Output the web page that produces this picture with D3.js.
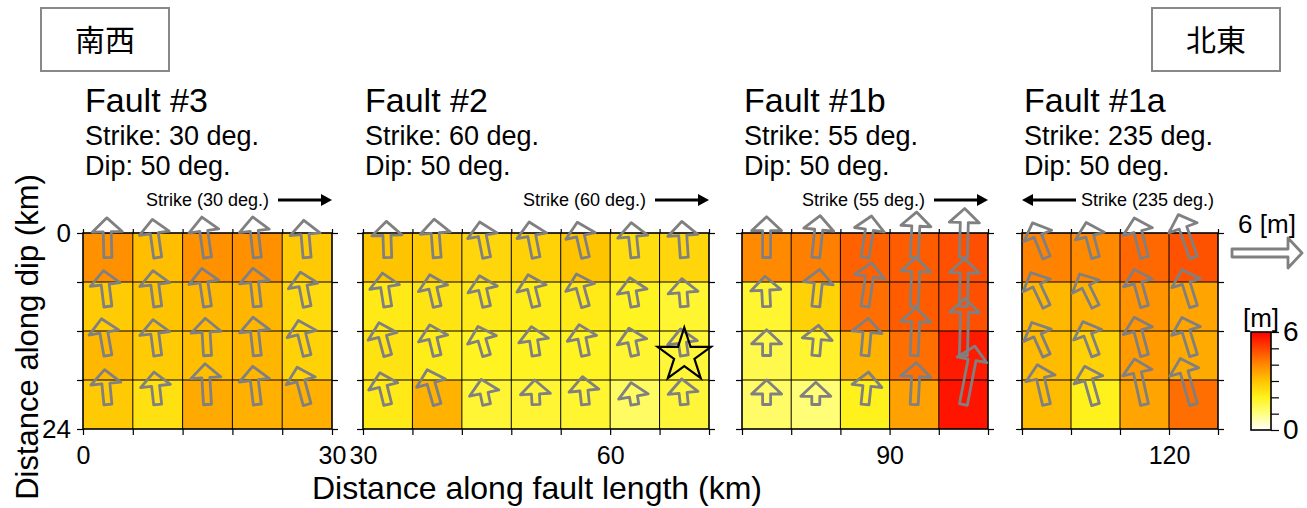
<!DOCTYPE html>
<html>
<head>
<meta charset="utf-8">
<script src="https://cdn.jsdelivr.net/npm/d3@7"></script>
<style>
  body { margin: 0; background: #fff; }
  svg { display: block; font-family: "Liberation Sans", Arial, sans-serif; }
</style>
</head>
<body>
<svg id="chart" width="1307" height="508"></svg>
<script>
// ---- data ----
const faultNames = ["Fault #3", "Fault #2", "Fault #1b", "Fault #1a"];
const faultStrikes = [30, 60, 55, 235];
const faultDips = [50, 50, 50, 50];
const faultKm = [[0, 30], [30, 72], [72, 102], [102, 126]];
const xTickLabels = [[0, 30], [30, 60], [90], [120]];
const strikeArrowDir = [1, 1, 1, -1];
const dipRange = [0, 24];
const dipTickLabels = [0, 24];
const patchKm = 6;

// slip on grid (m) used for shading, rows top (0 km) -> bottom (24 km)
const slipF3 = [
  [3.9, 3.1, 3.9, 3.9, 2.9],
  [2.85, 3.0, 3.2, 3.25, 2.5],
  [3.2, 2.85, 3.1, 3.25, 2.7],
  [2.9, 2.4, 3.45, 3.35, 3.35]
];
const slipF2 = [
  [3.0, 2.9, 2.6, 2.7, 3.0, 2.45, 2.6],
  [2.2, 2.3, 2.2, 2.1, 2.2, 1.95, 1.8],
  [2.35, 2.1, 1.95, 1.95, 1.95, 1.8, 1.7],
  [2.2, 3.3, 1.75, 1.75, 1.8, 1.3, 1.7]
];
const slipF1b = [
  [4.0, 4.15, 4.6, 4.65, 4.85],
  [1.8, 2.7, 4.4, 4.65, 4.85],
  [1.5, 1.8, 3.3, 4.4, 5.6],
  [1.25, 1.1, 2.0, 3.6, 5.7]
];
const slipF1a = [
  [4.1, 4.0, 4.5, 4.8],
  [3.2, 3.3, 3.85, 3.55],
  [3.15, 2.7, 3.7, 3.45],
  [3.15, 2.0, 3.55, 4.4]
];

// slip vectors (m) per patch
const vecF3 = [
  [3.4, 3.3, 3.5, 3.5, 3.2],
  [3.1, 3.1, 3.3, 3.3, 3.0],
  [3.2, 3.1, 3.2, 3.3, 3.1],
  [3.0, 2.8, 3.5, 3.3, 3.3]
];
const vecF2 = [
  [3.1, 3.3, 3.1, 3.1, 3.1, 3.0, 3.1],
  [2.9, 2.8, 2.7, 2.8, 2.9, 2.5, 2.4],
  [2.9, 2.7, 2.6, 2.5, 2.7, 2.4, 2.3],
  [2.8, 3.1, 2.2, 2.1, 2.4, 1.9, 2.2]
];
const vecF1b = [
  [3.5, 3.6, 3.6, 3.9, 4.2],
  [2.6, 3.2, 3.8, 4.2, 4.1],
  [2.2, 2.6, 3.2, 4.1, 4.9],
  [2.1, 1.9, 2.8, 3.6, 5.1]
];
const vecF1a = [
  [3.2, 3.1, 3.5, 3.9],
  [3.2, 3.1, 3.3, 3.3],
  [3.1, 3.1, 3.4, 3.4],
  [3.5, 3.4, 4.0, 4.1]
];

// tilt of each slip vector from up-dip (deg, clockwise positive)
const tiltF3 = [
  [-1.5, -8, -8, -6.5, -5],
  [-7, -7.5, -8.5, -6.5, -11],
  [-10, -7.5, -3.5, -6.5, -14],
  [-5.5, -6.5, -3.5, -7, -15]
];
const tiltF2 = [
  [-2, -4.5, -11, -11, -13, -6, -4],
  [-9, -13, -13, -14, -15.5, -10, -5],
  [-15, -13.5, -16.5, -9, -11.5, -12, -8],
  [-14, -16, -12, -3, -6, -10, -6]
];
const tiltF1b = [
  [0, 6, 9, 3, 1.5],
  [-3, 6, 8.5, 2.5, 1.5],
  [0, 5, 5, 2.5, 1.5],
  [0, 0, 6, 3, 11]
];
const tiltF1a = [
  [-22, -15, -14.5, -19.5],
  [-25, -26, -15.5, -17.5],
  [-24, -20.5, -15, -17],
  [-13, -16, -12.5, -16]
];

const faultSlip = [slipF3, slipF2, slipF1b, slipF1a];
const faultVec = [vecF3, vecF2, vecF1b, vecF1a];
const faultTilt = [tiltF3, tiltF2, tiltF1b, tiltF1a];

// hypocentre (km along length, km along dip)
const hypo = [69, 15];

// colour palette
const cptValues = [0, 1, 2, 3, 4, 5, 6];
const cptColors = ["#ffffff", "#ffff80", "#fff21c", "#ffc400", "#ff8a00", "#ff4400", "#ff0000"];
const cbarTicks = [0, 1, 2, 3, 4, 5, 6];
const cbarLabels = [0, 6];
const refSlip = 6;

const regionLabels = ["南西", "北東"];

// ---- layout ----
const panelX = [[83, 332], [363, 709], [742, 988], [1022, 1218]];
const plotTop = 233, plotBottom = 429;
const font = '"Liberation Sans", Arial, sans-serif';

const svg = d3.select("#chart");
const color = d3.scaleLinear().domain(cptValues).range(cptColors).clamp(true);
const vecLen = d3.scaleLinear().domain([0, 6]).range([0, 70]);
const y = d3.scaleLinear().domain(dipRange).range([plotTop, plotBottom]);

function arrowPath(L) {
  const w = 4, hw = 15, hl = 14;
  const b = -(L - hl);
  return `M${-w},0L${-w},${b}L${-hw},${b}L0,${-L}L${hw},${b}L${w},${b}L${w},0Z`;
}

function styleAxis(g) {
  g.select(".domain").remove();
  g.selectAll("line").attr("stroke", "#000").attr("stroke-width", 1.2);
  g.selectAll("text").attr("font-size", 25).attr("font-family", font).attr("fill", "#000");
}

faultNames.forEach((name, i) => {
  const [k0, k1] = faultKm[i];
  const x = d3.scaleLinear().domain([k0, k1]).range(panelX[i]);
  const g = svg.append("g");
  const slip = faultSlip[i];
  const nCols = slip[0].length;
  const colEdges = d3.range(nCols + 1).map(c => k0 + c * patchKm);
  const rowEdges = d3.range(slip.length + 1).map(r => r * patchKm);

  // patches
  slip.forEach((row, r) => row.forEach((s, c) => {
    g.append("rect")
      .attr("x", x(colEdges[c])).attr("y", y(rowEdges[r]))
      .attr("width", x(colEdges[c + 1]) - x(colEdges[c]))
      .attr("height", y(rowEdges[r + 1]) - y(rowEdges[r]))
      .attr("fill", color(s));
  }));

  // patch outlines
  g.selectAll(".vl").data(colEdges.slice(1, -1)).enter().append("line")
    .attr("x1", d => x(d)).attr("x2", d => x(d))
    .attr("y1", plotTop).attr("y2", plotBottom)
    .attr("stroke", "#000").attr("stroke-width", 1);
  g.selectAll(".hl").data(rowEdges.slice(1, -1)).enter().append("line")
    .attr("x1", panelX[i][0]).attr("x2", panelX[i][1])
    .attr("y1", d => y(d)).attr("y2", d => y(d))
    .attr("stroke", "#000").attr("stroke-width", 1);
  g.append("rect")
    .attr("x", panelX[i][0]).attr("y", plotTop)
    .attr("width", panelX[i][1] - panelX[i][0]).attr("height", plotBottom - plotTop)
    .attr("fill", "none").attr("stroke", "#000").attr("stroke-width", 1.6);

  // axes
  const labX = xTickLabels[i];
  g.append("g").attr("transform", `translate(0,${plotBottom})`)
    .call(d3.axisBottom(x).tickValues(colEdges).tickSize(6).tickPadding(11)
      .tickFormat(d => labX.includes(d) ? d : ""))
    .call(styleAxis);
  g.append("g").attr("transform", `translate(0,${plotTop})`)
    .call(d3.axisTop(x).tickValues(colEdges).tickSize(4).tickFormat(""))
    .call(styleAxis);
  g.append("g").attr("transform", `translate(${panelX[i][0]},0)`)
    .call(d3.axisLeft(y).tickValues(rowEdges).tickSize(6).tickPadding(6)
      .tickFormat(d => (i === 0 && dipTickLabels.includes(d)) ? d : ""))
    .call(styleAxis)
    .call(a => a.selectAll("text").attr("font-size", 26));
  g.append("g").attr("transform", `translate(${panelX[i][1]},0)`)
    .call(d3.axisRight(y).tickValues(rowEdges).tickSize(6).tickFormat(""))
    .call(styleAxis);

  // slip vectors
  const vec = faultVec[i], tilt = faultTilt[i];
  vec.forEach((row, r) => row.forEach((v, c) => {
    const cx = x(k0 + (c + 0.5) * patchKm), cy = y((r + 0.5) * patchKm);
    g.append("path")
      .attr("d", arrowPath(vecLen(v)))
      .attr("transform", `translate(${cx},${cy}) rotate(${tilt[r][c]})`)
      .attr("fill", "none").attr("stroke", "#808080")
      .attr("stroke-width", 2.8).attr("stroke-linejoin", "round");
  }));

  // titles
  const tx = panelX[i][0] + 2;
  svg.append("text").attr("x", tx).attr("y", 112).attr("font-size", 34).text(name);
  svg.append("text").attr("x", tx).attr("y", 145).attr("font-size", 27)
    .text(`Strike: ${faultStrikes[i]} deg.`);
  svg.append("text").attr("x", tx).attr("y", 175).attr("font-size", 27)
    .text(`Dip: ${faultDips[i]} deg.`);

  // strike direction
  const ay = 200, aLen = 54;
  const dir = strikeArrowDir[i];
  const a0 = dir > 0 ? panelX[i][1] - aLen : panelX[i][0] + aLen;
  const a1 = dir > 0 ? panelX[i][1] : panelX[i][0];
  g.append("line").attr("x1", a0).attr("x2", a1 - dir * 8).attr("y1", ay).attr("y2", ay)
    .attr("stroke", "#000").attr("stroke-width", 3);
  g.append("path")
    .attr("d", `M${a1},${ay}L${a1 - dir * 11},${ay - 6}L${a1 - dir * 11},${ay + 6}Z`)
    .attr("fill", "#000");
  g.append("text")
    .attr("x", dir > 0 ? a0 - 9 : a0 + 5).attr("y", ay + 6)
    .attr("text-anchor", dir > 0 ? "end" : "start")
    .attr("font-size", 18)
    .text(`Strike (${faultStrikes[i]} deg.)`);

  // hypocentre
  if (hypo[0] > k0 && hypo[0] < k1) {
    g.append("path")
      .attr("d", d3.symbol(d3.symbolStar, 880)())
      .attr("transform", `translate(${x(hypo[0])},${y(hypo[1])})`)
      .attr("fill", "none").attr("stroke", "#000").attr("stroke-width", 2.2);
  }
});

// axis titles
svg.append("text").attr("x", 537).attr("y", 499).attr("text-anchor", "middle")
  .attr("font-size", 32).text("Distance along fault length (km)");
svg.append("text").attr("transform", "translate(38,337) rotate(-90)")
  .attr("text-anchor", "middle").attr("font-size", 31).text("Distance along dip (km)");

// region boxes
[[41, regionLabels[0]], [1152, regionLabels[1]]].forEach(([bx, lab]) => {
  svg.append("rect").attr("x", bx).attr("y", 8).attr("width", 128).attr("height", 63)
    .attr("fill", "#fff").attr("stroke", "#888").attr("stroke-width", 2);
  svg.append("text").attr("x", bx + 64).attr("y", 51).attr("text-anchor", "middle")
    .attr("font-size", 30).attr("font-family", '"Noto Sans CJK JP", sans-serif')
    .text(lab);
});

// reference vector
svg.append("text").attr("x", 1267).attr("y", 233).attr("text-anchor", "middle")
  .attr("font-size", 26).text(`${refSlip} [m]`);
svg.append("path").attr("d", arrowPath(vecLen(refSlip)))
  .attr("transform", "translate(1232,253) rotate(90)")
  .attr("fill", "none").attr("stroke", "#808080")
  .attr("stroke-width", 2.8).attr("stroke-linejoin", "round");

// colour bar
const cb = { x: 1251, w: 20, top: 332, bottom: 430 };
const cy = d3.scaleLinear().domain([0, 6]).range([cb.bottom, cb.top]);
const grad = svg.append("defs").append("linearGradient").attr("id", "cbar")
  .attr("x1", 0).attr("y1", 1).attr("x2", 0).attr("y2", 0);
cptValues.forEach(v => grad.append("stop").attr("offset", v / 6).attr("stop-color", color(v)));
svg.append("rect").attr("x", cb.x).attr("y", cb.top).attr("width", cb.w)
  .attr("height", cb.bottom - cb.top).attr("fill", "url(#cbar)")
  .attr("stroke", "#000").attr("stroke-width", 1.6);
svg.append("g").attr("transform", `translate(${cb.x + cb.w},0)`)
  .call(d3.axisRight(cy).tickValues(cbarTicks).tickSize(8).tickPadding(4)
    .tickFormat(d => cbarLabels.includes(d) ? d : ""))
  .call(styleAxis)
  .call(g => g.selectAll("text").attr("font-size", 28));
svg.append("text").attr("x", cb.x + cb.w / 2).attr("y", 327).attr("text-anchor", "middle")
  .attr("font-size", 26).text("[m]");
</script>
</body>
</html>
